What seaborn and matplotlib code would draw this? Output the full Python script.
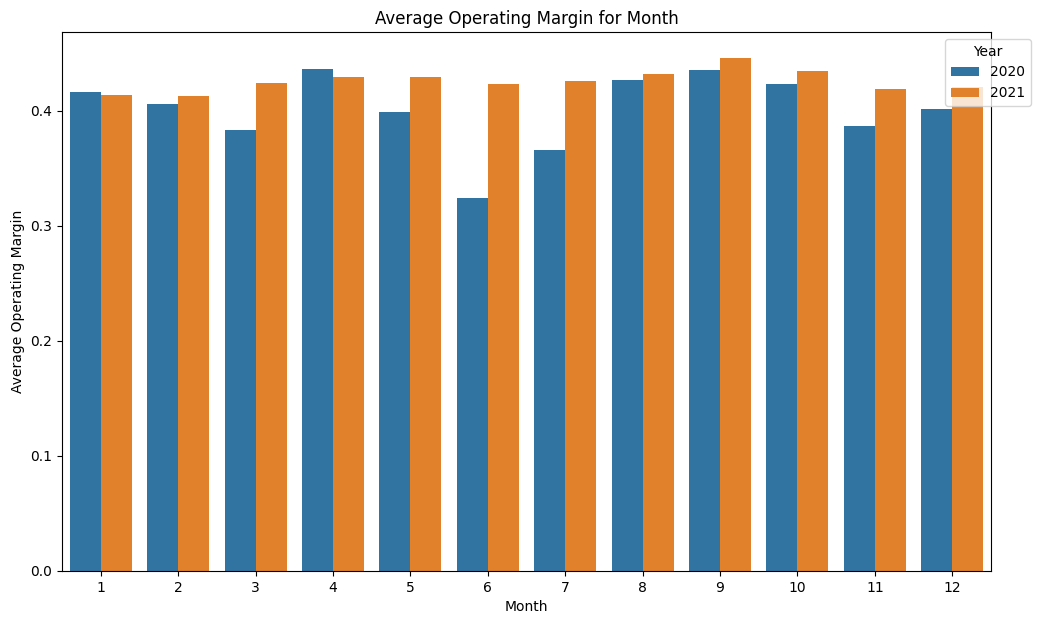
import matplotlib
matplotlib.use("Agg")
import matplotlib.pyplot as plt
import seaborn as sns
import pandas as pd

months = [1, 2, 3, 4, 5, 6, 7, 8, 9, 10, 11, 12]
margin_2020 = [0.4167, 0.4055, 0.3829, 0.4367, 0.3994, 0.3239, 0.3656, 0.4270, 0.4358, 0.4237, 0.3864, 0.4020]
margin_2021 = [0.4141, 0.4133, 0.4246, 0.4298, 0.4298, 0.4237, 0.4263, 0.4324, 0.4462, 0.4348, 0.4193, 0.4211]
years = [2020, 2021]

df = pd.DataFrame({
    "Month": months * 2,
    "Average Operating Margin": margin_2020 + margin_2021,
    "Year": [years[0]] * len(months) + [years[1]] * len(months),
})

fig = plt.figure(figsize=(10.4, 6.24), dpi=100)
ax = fig.add_axes([62 / 1040, 1 - 571 / 624, (991 - 62) / 1040, (571 - 32) / 624])
sns.barplot(data=df, x="Month", y="Average Operating Margin", hue="Year",
            palette=["#1f77b4", "#ff7f0e"], ax=ax, errorbar=None)
ax.set_title("Average Operating Margin for Month")
ax.set_xlabel("Month")
ax.set_ylabel("Average Operating Margin")
ax.legend(title="Year", loc="upper right", bbox_to_anchor=(1.05, 1))
fig.savefig("out.png", dpi=100)
